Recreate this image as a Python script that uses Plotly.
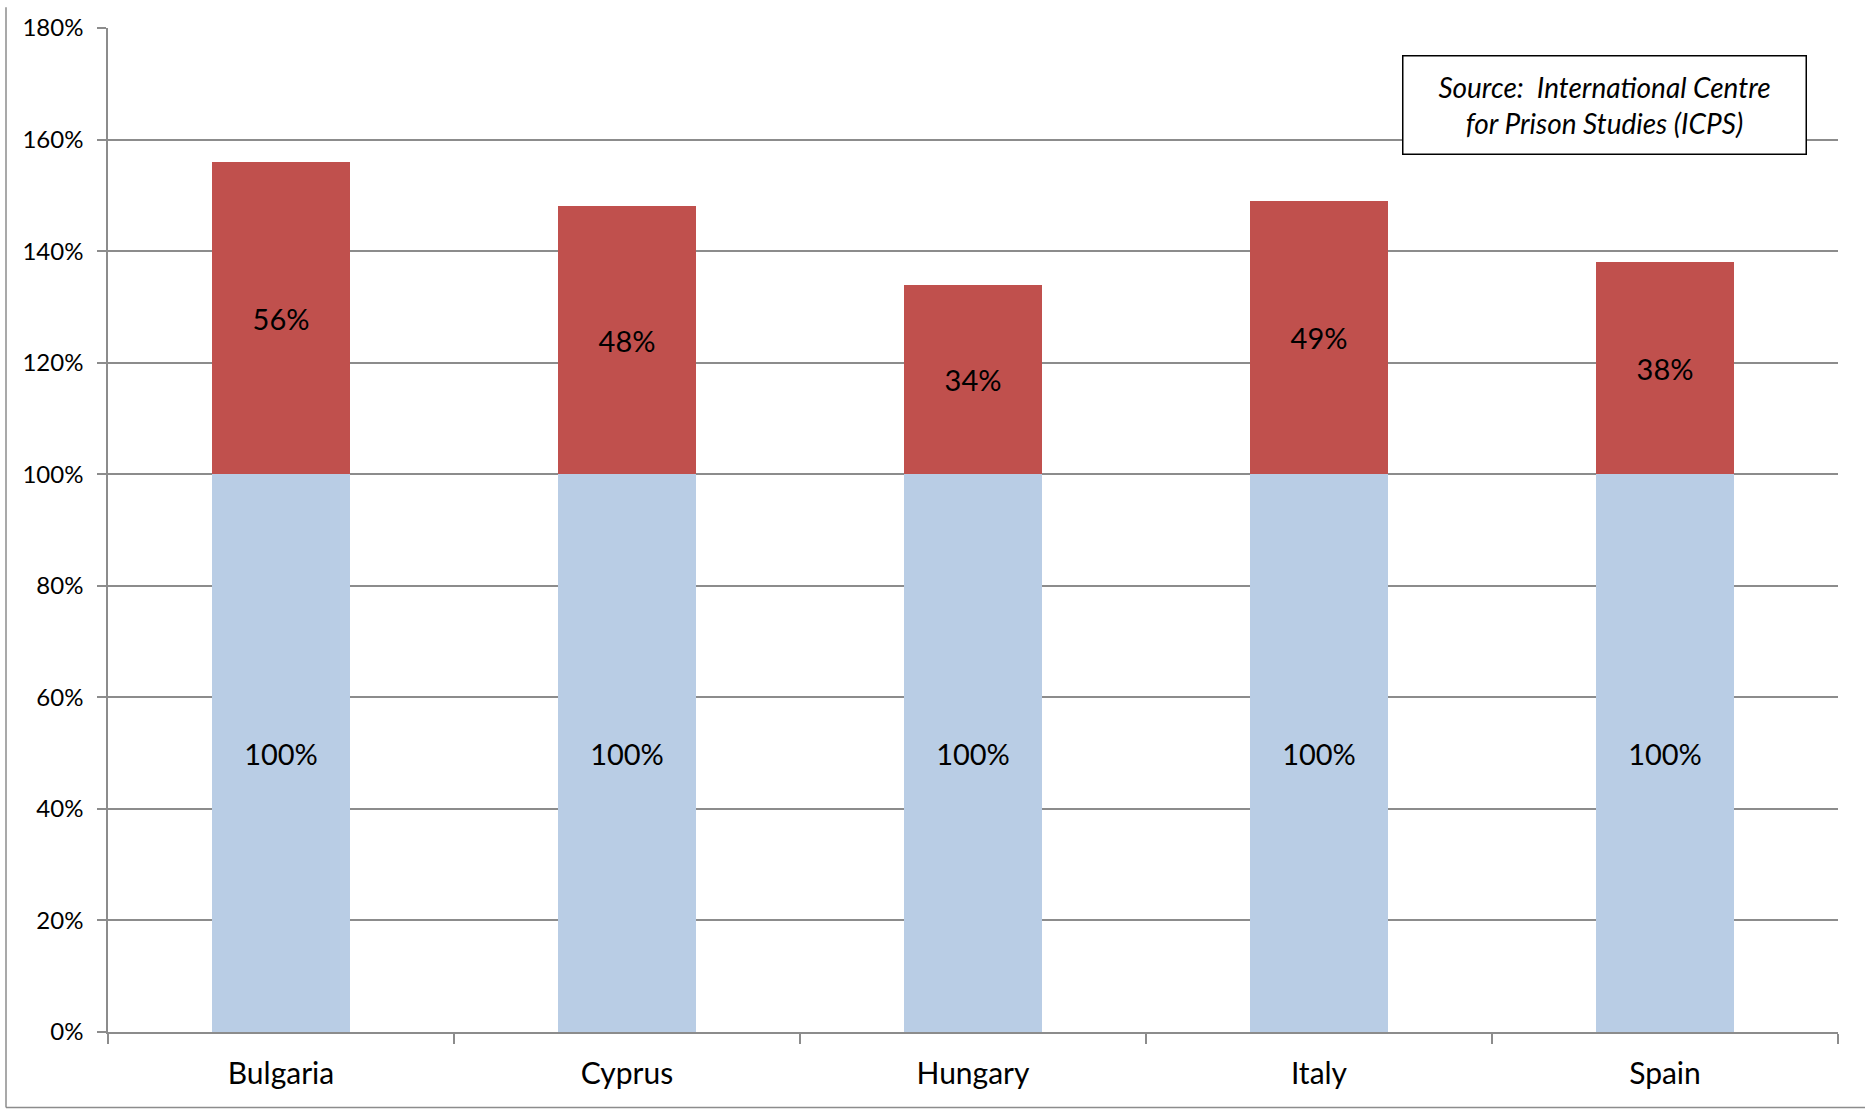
import plotly.graph_objects as go

countries = ["Bulgaria", "Cyprus", "Hungary", "Italy", "Spain"]
capacity = [1.00, 1.00, 1.00, 1.00, 1.00]
overcrowding = [0.56, 0.48, 0.34, 0.49, 0.38]
y_ticks = [0, 0.2, 0.4, 0.6, 0.8, 1.0, 1.2, 1.4, 1.6, 1.8]

W, H = 1865, 1113
L, R, T, B = 108, 27, 21, 81
pw, ph = W - L - R, H - T - B

def px_x(x):
    return (x - L) / pw

def px_y(y):
    return (H - B - y) / ph

FONT = "Lato"
GRID = "#8c8c8c"

fig = go.Figure()
fig.add_trace(go.Bar(
    x=countries, y=capacity, marker=dict(color="#B9CDE5", line=dict(width=0)),
    text=[f"{v:.0%}" for v in capacity], textposition="inside",
    insidetextanchor="middle", constraintext="none",
    textfont=dict(family=FONT, size=29, color="black"), hoverinfo="skip"))
fig.add_trace(go.Bar(
    x=countries, y=overcrowding, marker=dict(color="#C0504D", line=dict(width=0)),
    text=[f"{v:.0%}" for v in overcrowding], textposition="inside",
    insidetextanchor="middle", constraintext="none",
    textfont=dict(family=FONT, size=29, color="black"), hoverinfo="skip"))

fig.update_layout(
    barmode="stack", bargap=0.6, showlegend=False,
    width=W, height=H, margin=dict(l=L, r=R, t=T, b=B, pad=0),
    paper_bgcolor="white", plot_bgcolor="white",
    font=dict(family=FONT, color="black"),
    xaxis=dict(showline=True, linecolor=GRID, linewidth=1.5,
               ticks="outside", ticklen=10, tickwidth=1.5, tickcolor=GRID,
               tickson="boundaries", showgrid=False,
               tickfont=dict(family=FONT, size=30, color="black"),
               ticklabelstandoff=14),
    yaxis=dict(range=[0, 1.8], tickvals=y_ticks, tickformat=".0%",
               showline=True, linecolor=GRID, linewidth=1.5,
               ticks="outside", ticklen=9, tickwidth=1.5, tickcolor=GRID,
               showgrid=True, gridcolor=GRID, gridwidth=1.5, zeroline=False,
               tickfont=dict(family=FONT, size=24, color="black"),
               ticklabelstandoff=9),
)

fig.add_annotation(
    xref="paper", yref="paper",
    x=px_x(1604), y=px_y(99), xanchor="center", yanchor="middle",
    text="<i>Source:\u00a0 International Centre<br>for Prison Studies (ICPS)</i>",
    showarrow=False, font=dict(family=FONT, size=28, color="black"),
    bgcolor="white", bordercolor="black", borderwidth=1.5, borderpad=0,
    width=402, height=97, align="center")

# outer chart-area border (left and bottom visible)
fig.add_shape(type="line", xref="paper", yref="paper",
              x0=px_x(6), x1=px_x(6), y0=px_y(0), y1=px_y(1108),
              line=dict(color=GRID, width=1.5))
fig.add_shape(type="line", xref="paper", yref="paper",
              x0=px_x(6), x1=px_x(1865), y0=px_y(1108), y1=px_y(1108),
              line=dict(color=GRID, width=1.5))

fig.write_html("out.html", config={"displayModeBar": False},
               post_script="document.body.style.margin='0';document.body.style.overflow='hidden';")
